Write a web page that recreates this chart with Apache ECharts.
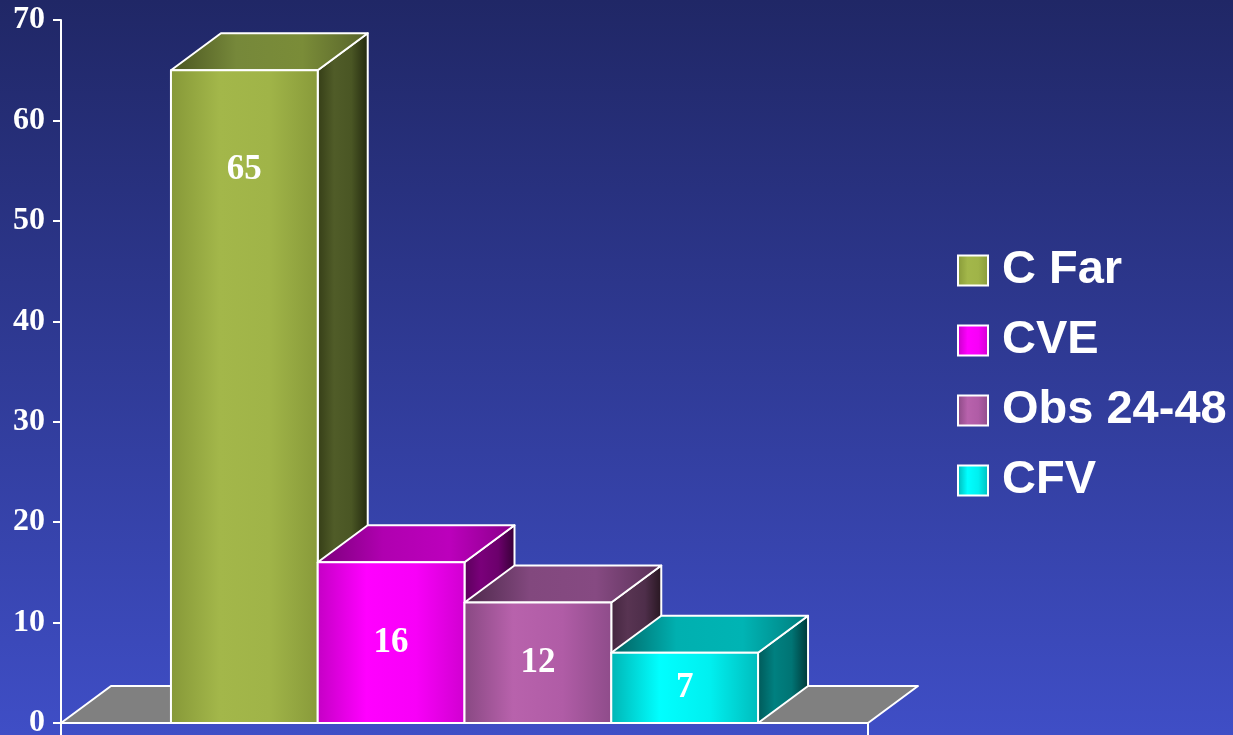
<!DOCTYPE html>
<html>
<head>
<meta charset="utf-8">
<script src="https://cdn.jsdelivr.net/npm/echarts@6/dist/echarts.min.js"></script>
<style>
  html, body { margin: 0; padding: 0; }
  #chart { width: 1233px; height: 735px; }
</style>
</head>
<body>
<div id="chart"></div>
<script>
// Series names and values
const categories = ['C Far', 'CVE', 'Obs 24-48', 'CFV'];
const values = [65, 16, 12, 7];
const yTickLabels = ['0', '10', '20', '30', '40', '50', '60', '70'];

// Shading for each box: front face, top face, side face (left -> right stops)
const frontShades = [
  ['#869838', '#a3b74a', '#a0b448', '#889a3a'],
  ['#c400c4', '#ff00ff', '#f800f8', '#d000d0'],
  ['#884882', '#b862ac', '#b05ca6', '#8e4c8a'],
  ['#00b4b4', '#00ffff', '#00f0f0', '#00bcbc']
];
const topShades = [
  ['#4a5520', '#76883a', '#7a8c38', '#56622a'],
  ['#7a007a', '#b000b0', '#bc00bc', '#880088'],
  ['#4c284a', '#82487e', '#864a82', '#583056'],
  ['#006060', '#00b0b0', '#00b4b4', '#007c7c']
];
const sideShades = [
  ['#343c16', '#505c28', '#4a5624', '#22280e'],
  ['#5a005a', '#7a007a', '#6c006c', '#340034'],
  ['#44263f', '#583452', '#4e2e4a', '#26161f'],
  ['#005858', '#008080', '#007474', '#003636']
];

// Depth of the 3D extrusion in pixels
const DEPTH_X = 50;
const DEPTH_Y = -37;
// Share of the category band taken by the four boxes
const GROUP_FRACTION = 0.7275;
// Largest distance of a value label below the top of its box
const LABEL_DROP = 100;

function hGrad(colors) {
  const n = colors.length - 1;
  return new echarts.graphic.LinearGradient(0, 0, 1, 0,
    colors.map((c, i) => ({ offset: i / n, color: c })));
}

const edge = { stroke: '#ffffff', lineWidth: 2, lineJoin: 'round' };

function floorRenderer(params, api) {
  const base = api.coord([0, 0]);
  const band = api.size([1, 0])[0];
  const left = base[0] - band / 2;
  const right = base[0] + band / 2;
  const y = base[1];
  return {
    type: 'polygon',
    shape: {
      points: [[left, y], [right, y], [right + DEPTH_X, y + DEPTH_Y], [left + DEPTH_X, y + DEPTH_Y]]
    },
    style: Object.assign({ fill: '#808080' }, edge)
  };
}

function boxRenderer(idx) {
  return function (params, api) {
    const val = api.value(1);
    const base = api.coord([0, 0]);
    const top = api.coord([0, val]);
    const band = api.size([1, 0])[0];
    const groupW = band * GROUP_FRACTION;
    const barW = groupW / categories.length;
    const x0 = base[0] - groupW / 2 + idx * barW;
    const x1 = x0 + barW;
    const y0 = base[1];
    const y1 = top[1];
    const labelY = Math.min((y0 + y1) / 2, y1 + LABEL_DROP);
    return {
      type: 'group',
      children: [
        {
          type: 'polygon',
          shape: { points: [[x1, y0], [x1 + DEPTH_X, y0 + DEPTH_Y], [x1 + DEPTH_X, y1 + DEPTH_Y], [x1, y1]] },
          style: Object.assign({ fill: hGrad(sideShades[idx]) }, edge)
        },
        {
          type: 'polygon',
          shape: { points: [[x0, y1], [x1, y1], [x1 + DEPTH_X, y1 + DEPTH_Y], [x0 + DEPTH_X, y1 + DEPTH_Y]] },
          style: Object.assign({ fill: hGrad(topShades[idx]) }, edge)
        },
        {
          type: 'rect',
          shape: { x: x0, y: y1, width: barW, height: y0 - y1 },
          style: Object.assign({ fill: hGrad(frontShades[idx]) }, edge)
        },
        {
          type: 'text',
          style: {
            text: String(val),
            x: (x0 + x1) / 2,
            y: labelY,
            align: 'center',
            verticalAlign: 'middle',
            fill: '#ffffff',
            font: 'bold 35px "Liberation Serif", "DejaVu Serif", serif'
          }
        }
      ]
    };
  };
}

const chart = echarts.init(document.getElementById('chart'), null, { renderer: 'canvas' });

const series = [{
  name: 'floor',
  type: 'custom',
  coordinateSystem: 'cartesian2d',
  clip: false,
  silent: true,
  data: [[0, 0]],
  renderItem: floorRenderer,
  z: 1
}];
categories.forEach((name, i) => {
  series.push({
    name: name,
    type: 'custom',
    coordinateSystem: 'cartesian2d',
    clip: false,
    silent: true,
    data: [[0, values[i]]],
    encode: { x: 0, y: 1 },
    itemStyle: { color: hGrad(frontShades[i]) },
    renderItem: boxRenderer(i),
    z: 2 + i
  });
});

chart.setOption({
  animation: false,
  backgroundColor: new echarts.graphic.LinearGradient(0, 0, 0, 1, [
    { offset: 0, color: '#202766' },
    { offset: 1, color: '#3f4ec6' }
  ]),
  grid: { left: 61, right: 365, top: 20, bottom: 12, outerBoundsMode: 'none', containLabel: false },
  legend: {
    orient: 'vertical',
    left: 957,
    top: 247,
    padding: 0,
    itemWidth: 30,
    itemHeight: 30,
    itemGap: 23,
    icon: 'rect',
    selectedMode: false,
    textStyle: {
      color: '#ffffff',
      fontFamily: '"Liberation Sans", Arial, sans-serif',
      fontWeight: 'bold',
      fontSize: 47,
      padding: [0, 0, 0, 9]
    },
    data: categories.map((name, i) => ({
      name: name,
      itemStyle: { color: hGrad(frontShades[i]), borderColor: '#ffffff', borderWidth: 2 }
    }))
  },
  xAxis: {
    type: 'category',
    data: [''],
    axisLine: { show: true, lineStyle: { color: '#ffffff', width: 2 } },
    axisTick: { show: true, length: 12, lineStyle: { color: '#ffffff', width: 2 } },
    axisLabel: { show: false },
    splitLine: { show: false },
    z: 10
  },
  yAxis: {
    type: 'value',
    min: 0,
    max: 70,
    interval: 10,
    axisLine: { show: true, lineStyle: { color: '#ffffff', width: 2 } },
    axisTick: { show: true, length: 8, lineStyle: { color: '#ffffff', width: 2 } },
    axisLabel: {
      color: '#ffffff',
      fontFamily: '"Liberation Serif", "DejaVu Serif", serif',
      fontWeight: 'bold',
      fontSize: 32,
      margin: 16,
      formatter: v => yTickLabels[Math.round(v / 10)]
    },
    splitLine: { show: false },
    z: 10
  },
  series: series
});
</script>
</body>
</html>
